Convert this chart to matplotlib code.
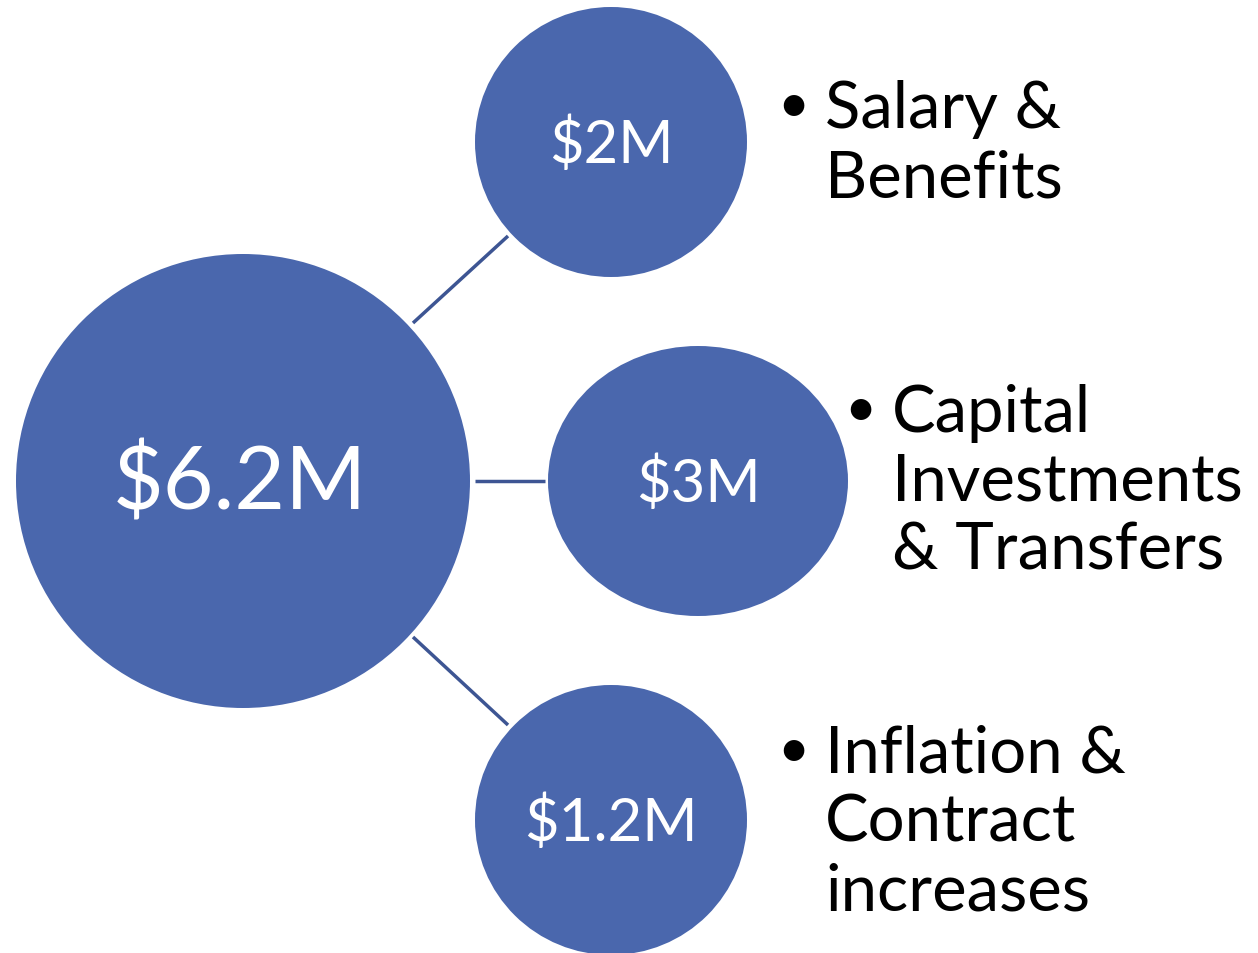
import matplotlib.pyplot as plt
from matplotlib.patches import Ellipse

# data
total = "$6.2M"
parts = ["$2M", "$3M", "$1.2M"]
labels = [["Salary &", "Benefits"],
          ["Capital", "Investments", "& Transfers"],
          ["Inflation &", "Contract", "increases"]]

fill = '#4a67ad'
edge = '#3d5593'
W, H = 1258, 954

fig = plt.figure(figsize=(W / 100, H / 100), dpi=100)
ax = fig.add_axes([0, 0, 1, 1])
ax.set_xlim(0, W)
ax.set_ylim(H, 0)
ax.axis('off')

plt.rcParams['font.family'] = ['Lato', 'DejaVu Sans']

# big circle
cx, cy, R = 243, 482, 227
ax.add_patch(Ellipse((cx, cy), 2 * R, 2 * R, facecolor=fill, edgecolor='none'))
ax.text(cx - 3, cy + 2, total, color='white', fontsize=63, ha='center', va='center')

# small circles: centre, half-width, half-height, connector ends, label anchor
small = [
	((611, 143), 136, 135, ((413, 324), (508, 237)), (793, 825, 128)),
	((698, 482), 150, 135, ((475, 482), (545, 482)), (860, 892, 432)),
	((611, 821), 136, 135, ((413, 638), (508, 726)), (793, 825, 773)),
]
step = 69

for i, (c, rx, ry, conn, lab) in enumerate(small):
	ax.add_patch(Ellipse(c, 2 * rx, 2 * ry, facecolor=fill, edgecolor='none'))
	ax.text(c[0], c[1] + 2, parts[i], color='white', fontsize=43, ha='center', va='center')
	(x0, y0), (x1, y1) = conn
	ax.plot([x0, x1], [y0, y1], color=edge, lw=2.5, solid_capstyle='butt')
	bx, tx, base = lab
	ax.text(bx, base - 21, u'\u2022', fontsize=40, ha='center', va='center', color='black')
	for j, line in enumerate(labels[i]):
		ax.text(tx, base + j * step, line, fontsize=47, ha='left', va='baseline', color='black')

plt.savefig('out.png', dpi=100)
plt.close()
